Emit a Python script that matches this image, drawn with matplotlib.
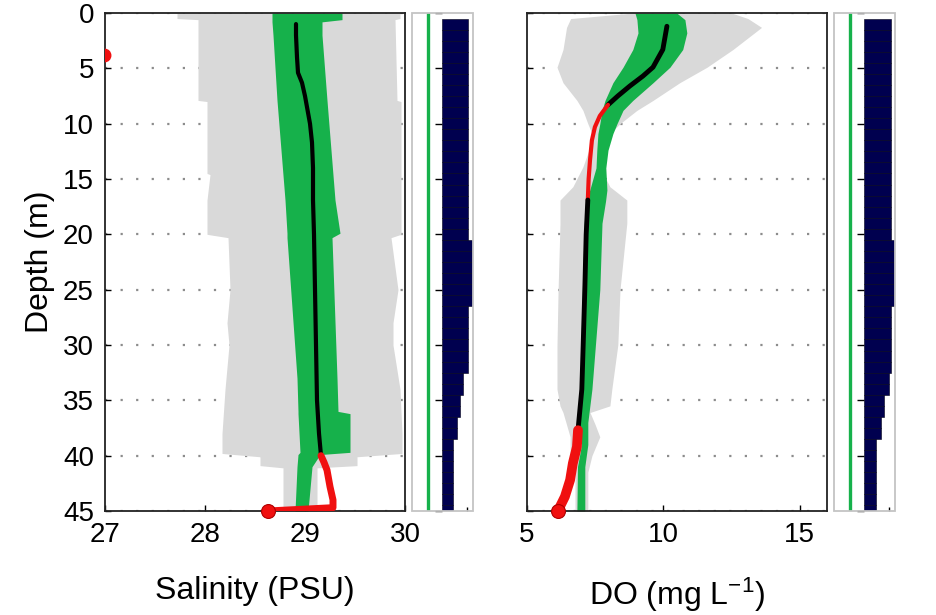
## Salinity and DO depth profiles with Matplotlib

import numpy as np
import matplotlib as mpl
import matplotlib.pyplot as plt
from matplotlib.patches import Rectangle

## Global Setting

plt.rcParams['font.family'] = ['Liberation Sans', 'DejaVu Sans']
plt.rcParams['mathtext.fontset'] = 'custom'
plt.rcParams['mathtext.rm'] = 'Liberation Sans'
plt.rcParams['mathtext.default'] = 'regular'
plt.rcParams['axes.linewidth'] = 1.3

GREY = '#d9d9d9'
GREEN = '#16b14b'
RED = '#f01010'
NAVY = '#00004f'

## Data Input

# salinity: min/max envelope (grey)
sal_env_depth = [0, 0.5, 0.6, 7.9, 8.0, 14.5, 14.6, 16.9, 20.0, 20.3, 25, 28, 30, 34, 38, 39.8, 40.1, 40.9, 41.1, 45]
sal_env_lo = [27.72, 27.72, 27.93, 27.93, 28.02, 28.02, 28.05, 28.02, 28.02, 28.23, 28.25, 28.22, 28.24, 28.20, 28.17, 28.17, 28.55, 28.55, 28.78, 28.78]
sal_env_hi = [29.95, 29.95, 29.90, 29.92, 29.96, 29.96, 29.96, 29.96, 29.96, 29.86, 29.93, 29.88, 29.88, 29.95, 29.97, 29.97, 29.52, 29.52, 29.12, 29.12]

# salinity: spread band (green)
sal_band_depth = [0, 0.6, 0.8, 2, 7.9, 16.9, 19.9, 20.3, 33, 36, 36.2, 39.7, 39.9, 41, 45]
sal_band_lo = [28.67, 28.67, 28.67, 28.68, 28.72, 28.80, 28.82, 28.82, 28.92, 28.93, 28.93, 28.95, 28.93, 28.92, 28.90]
sal_band_hi = [29.37, 29.37, 29.17, 29.17, 29.22, 29.30, 29.35, 29.27, 29.32, 29.33, 29.45, 29.45, 29.15, 29.07, 29.03]

# salinity: profile, black part and red part
sal_mean_depth = [1, 2, 4, 5.4, 6.3, 7.5, 8.5, 10, 11.7, 14, 16.9, 20, 25, 30, 35, 38, 40]
sal_mean = [28.91, 28.91, 28.92, 28.93, 28.97, 29.00, 29.02, 29.05, 29.07, 29.08, 29.08, 29.09, 29.10, 29.11, 29.12, 29.14, 29.16]
sal_red_depth = [40, 40.6, 41.3, 42.8, 44, 44.7, 45]
sal_red = [29.16, 29.19, 29.22, 29.25, 29.28, 29.28, 28.63]
sal_dot = (28.63, 45)
sal_edge_dot = (26.99, 3.8)

# DO: min/max envelope (grey)
do_env_depth = [0, 0.5, 1.3, 3.3, 4.9, 6.3, 7.9, 8.8, 10, 10.9, 12.1, 13.9, 15.7, 16.9, 19, 25, 30, 34, 35.5, 36.1, 37.2, 38.3, 40, 41.5, 45]
do_env_lo = [8.9, 6.6, 6.45, 6.32, 6.10, 6.32, 6.83, 7.05, 7.23, 7.38, 7.31, 7.05, 6.68, 6.21, 6.21, 6.14, 6.10, 6.10, 6.21, 6.32, 6.45, 6.58, 6.58, 6.76, 6.76]
do_env_hi = [12.5, 13.1, 13.6, 12.55, 11.6, 10.6, 9.62, 9.03, 8.41, 8.04, 7.78, 7.67, 8.04, 8.66, 8.66, 8.41, 8.33, 8.11, 8.04, 7.31, 7.50, 7.67, 7.38, 7.23, 7.23]

# DO: spread band (green)
do_band_depth = [0, 0.6, 1.8, 3.3, 4.9, 6.3, 7.9, 8.8, 10, 10.9, 12.4, 14, 16, 17, 19, 25, 34, 37, 39, 41, 45]
do_band_lo = [8.96, 9.03, 9.07, 8.88, 8.52, 8.15, 7.86, 7.75, 7.67, 7.60, 7.56, 7.53, 7.30, 7.15, 7.10, 7.03, 6.94, 6.94, 7.00, 6.85, 6.83]
do_band_hi = [10.49, 10.79, 10.86, 10.71, 10.24, 9.62, 8.88, 8.52, 8.30, 8.15, 7.97, 7.89, 7.93, 7.88, 7.75, 7.67, 7.38, 7.23, 7.23, 7.12, 7.12]

# DO: profile pieces
do_top_depth = [1.2, 3.3, 4.9, 5.7, 6.6, 7.5, 8.3]
do_top = [10.13, 9.98, 9.62, 9.25, 8.77, 8.33, 7.97]
do_mid_depth = [8.3, 9.3, 10.3, 11.5, 13.3, 15, 16.9]
do_mid = [7.97, 7.67, 7.49, 7.38, 7.31, 7.26, 7.23]
do_low_depth = [16.9, 20, 25, 30, 34, 37.7]
do_low = [7.23, 7.17, 7.12, 7.06, 7.01, 6.87]
do_bot_depth = [37.7, 39.2, 40.7, 42.2, 43.7, 44.6, 45]
do_bot = [6.87, 6.83, 6.68, 6.58, 6.39, 6.21, 6.14]

# side panels: per-metre bins
bin_depth = list(range(1, 46))
sal_count = [1.05] * 20 + [1.25] * 6 + [1.05] * 6 + [0.83] * 2 + [0.71] * 2 + [0.58] * 2 + [0.42] * 7
do_count = [1.08] * 20 + [1.29] * 6 + [1.08] * 6 + [1.00] * 2 + [0.80] * 2 + [0.67] * 2 + [0.46] * 7
side_line = -0.6

depth_ticks = [0, 5, 10, 15, 20, 25, 30, 35, 40, 45]

## Plot Statement

W, H = 937, 615
fig = plt.figure(figsize=(W / 100, H / 100), dpi=100)

def box(x0, x1):
    return [x0 / W, (H - 511) / H, (x1 - x0) / W, 498 / H]

ax1 = fig.add_axes(box(105, 405))
sd1 = fig.add_axes(box(412, 473))
ax2 = fig.add_axes(box(527, 827))
sd2 = fig.add_axes(box(834, 895))

def profile_axes(ax, xlim, xticks):
    ax.set_xlim(*xlim)
    ax.set_ylim(45, 0)
    ax.set_xticks(xticks)
    ax.set_yticks(depth_ticks)
    ax.set_axisbelow(True)
    ax.yaxis.grid(True, color='#8c8c8c', linestyle=(0, (1, 6)), linewidth=1.6)
    ax.tick_params(direction='in', length=4, width=1, labelsize=20, pad=8)
    for s in ax.spines.values():
        s.set_color('#222222')

def side_axes(ax, counts):
    ax.barh(bin_depth, counts, height=1, left=0, color=NAVY, edgecolor='#000018', linewidth=0.4, zorder=2)
    ax.axvline(side_line, color=GREEN, lw=2.4, zorder=2)
    ax.set_xlim(-1.25, 1.25)
    ax.set_ylim(45, 0)
    ax.set_xticks([1])
    ax.set_yticks(depth_ticks)
    ax.spines['left'].set_position(('data', 0))
    for s in ax.spines.values():
        s.set_visible(False)
    ax.tick_params(axis='y', direction='out', length=5, width=1, labelleft=False)
    ax.tick_params(axis='x', direction='in', length=3, width=1, labelbottom=False)
    ax.add_patch(Rectangle((0, 0), 1, 1, transform=ax.transAxes, fill=False,
                           ec='#c4c4c4', lw=1.3, clip_on=False, zorder=5))

## Salinity

profile_axes(ax1, (27, 30), [27, 28, 29, 30])
ax1.fill_betweenx(sal_env_depth, sal_env_lo, sal_env_hi, color=GREY, lw=0, zorder=1)
ax1.fill_betweenx(sal_band_depth, sal_band_lo, sal_band_hi, color=GREEN, lw=0, zorder=2)
ax1.plot(sal_mean, sal_mean_depth, color='black', lw=3, zorder=3, solid_capstyle='round')
ax1.plot(sal_red, sal_red_depth, color=RED, lw=5, zorder=3, solid_capstyle='round')
ax1.plot(*sal_dot, 'o', color=RED, ms=10, mec='#b00000', mew=0.8, zorder=4, clip_on=False)
ax1.plot(*sal_edge_dot, 'o', color=RED, ms=9, mec=RED, zorder=4, clip_on=True)
ax1.set_xlabel('Salinity (PSU)', fontsize=23, labelpad=20)
ax1.set_ylabel('Depth (m)', fontsize=23, labelpad=6)

side_axes(sd1, sal_count)

## Dissolved oxygen

profile_axes(ax2, (5, 16), [5, 10, 15])
ax2.tick_params(axis='y', labelleft=False)
ax2.fill_betweenx(do_env_depth, do_env_lo, do_env_hi, color=GREY, lw=0, zorder=1)
ax2.fill_betweenx(do_band_depth, do_band_lo, do_band_hi, color=GREEN, lw=0, zorder=2)
ax2.plot(do_top, do_top_depth, color='black', lw=3.5, zorder=3, solid_capstyle='round')
ax2.plot(do_mid, do_mid_depth, color=RED, lw=3, zorder=3, solid_capstyle='round')
ax2.plot(do_low, do_low_depth, color='black', lw=3.5, zorder=3, solid_capstyle='round')
ax2.plot(do_bot, do_bot_depth, color=RED, lw=7, zorder=3, solid_capstyle='round')
ax2.plot([do_bot[-1]], [do_bot_depth[-1]], 'o', color=RED, ms=10, mec='#b00000', mew=0.8, zorder=4, clip_on=False)
ax2.set_xlabel(r'DO (mg L$^{-1}$)', fontsize=23, labelpad=20)

side_axes(sd2, do_count)

## Figure Output

fig.savefig('out.png', dpi=100)
